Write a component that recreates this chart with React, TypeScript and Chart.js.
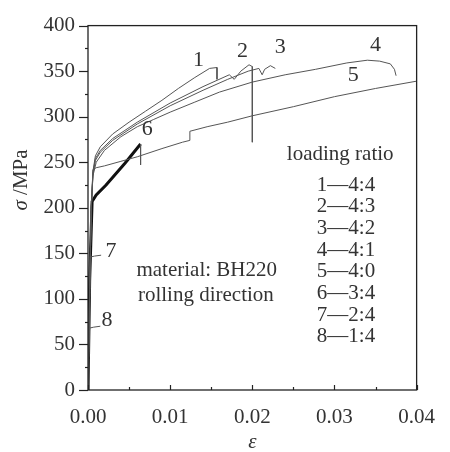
import { useEffect, useRef } from "react";
import { Chart, registerables } from "chart.js";

Chart.register(...registerables);

// ---- data (strain ε, stress σ / MPa) ----
const strain1 = [0, 0.0002, 0.0004, 0.0006, 0.0009, 0.0015, 0.003, 0.005, 0.007, 0.009, 0.011, 0.013, 0.0148, 0.0157, 0.0157];
const stress1 = [0, 110, 200, 240, 257, 267, 281, 294, 306, 318, 331, 343, 353, 354, 341];

const strain2 = [0, 0.0002, 0.0004, 0.0006, 0.0009, 0.0015, 0.003, 0.006, 0.01, 0.014, 0.0172, 0.0178, 0.0186, 0.0196, 0.02, 0.02];
const stress2 = [0, 110, 200, 238, 254, 263, 276, 294, 315, 333, 346, 341, 350, 357, 355, 272];

const strain3 = [0, 0.0002, 0.0004, 0.0006, 0.0009, 0.0015, 0.003, 0.006, 0.01, 0.014, 0.017, 0.0195, 0.0208, 0.0212, 0.0215, 0.0222, 0.0228];
const stress3 = [0, 110, 200, 236, 252, 261, 274, 292, 312, 329, 341, 350, 353, 346, 352, 356, 353];

const strain4 = [0, 0.0002, 0.0004, 0.0006, 0.001, 0.002, 0.004, 0.006, 0.008, 0.01, 0.013, 0.016, 0.02, 0.024, 0.0277, 0.0315, 0.034, 0.0355, 0.0368, 0.0373, 0.0375];
const stress4 = [0, 110, 200, 235, 250, 263, 278, 289, 297, 305, 316, 327, 338, 346, 352, 359, 362, 361, 358, 352, 345];

const strain5 = [0, 0.0002, 0.0004, 0.0006, 0.001, 0.002, 0.004, 0.006, 0.009, 0.0115, 0.0124, 0.0124, 0.0145, 0.017, 0.02, 0.025, 0.03, 0.035, 0.04];
const stress5 = [0, 110, 200, 242, 244, 246, 251, 256, 265, 272, 274, 284, 289, 294, 301, 311, 322, 331, 339];

const strain6 = [0, 0.0002, 0.0005, 0.001, 0.0022, 0.0045, 0.0064, 0.0064];
const stress6 = [0, 120, 207, 214, 225, 249, 270, 247];

const strain7 = [0, 0.0002, 0.0003, 0.0008];
const stress7 = [0, 100, 146, 147];

const strain8 = [0, 0.0001, 0.0002, 0.0007];
const stress8 = [0, 50, 68, 69];

// curve number labels (placed in data units)
const curveNames = ["1", "2", "3", "4", "5", "6", "7", "8"];
const nameStrain = [0.01345, 0.01880, 0.02340, 0.03500, 0.03230, 0.00720, 0.00280, 0.00230];
const nameStress = [362, 372, 376, 378, 345, 286, 152, 77];

const legendTitle = "loading ratio";
const legendLines = ["1\u20144:4", "2\u20144:3", "3\u20144:2", "4\u20144:1", "5\u20144:0", "6\u20143:4", "7\u20142:4", "8\u20141:4"];
const noteLines = ["material: BH220", "rolling direction"];

const xTicks = [0, 0.01, 0.02, 0.03, 0.04];
const yTicks = [0, 50, 100, 150, 200, 250, 300, 350, 400];

const SERIF = "'Liberation Serif', 'DejaVu Serif', serif";
const INK = "#333";
const LINE = "#555";
const FS = 21;

function pts(xs: number[], ys: number[]) {
  return xs.map((x, i) => ({ x, y: ys[i] }));
}

const framePlugin = {
  id: "frame",
  afterDraw(chart: any) {
    const { ctx, chartArea: a, scales } = chart;
    const xs = scales.x;
    const ys = scales.y;
    ctx.save();
    ctx.strokeStyle = "#222";
    ctx.lineWidth = 1.3;
    ctx.strokeRect(a.left, a.top, a.right - a.left, a.bottom - a.top);
    ctx.lineWidth = 1.2;
    // x ticks (inward)
    for (let v = 0; v <= 0.04 + 1e-9; v += 0.005) {
      const px = Math.round(xs.getPixelForValue(v)) + 0.5;
      const major = Math.abs(v / 0.01 - Math.round(v / 0.01)) < 1e-6;
      ctx.beginPath();
      ctx.moveTo(px, a.bottom);
      ctx.lineTo(px, a.bottom - (major ? 5 : 3));
      ctx.stroke();
    }
    // y ticks (outward)
    for (let v = 0; v <= 400 + 1e-9; v += 25) {
      const py = Math.round(ys.getPixelForValue(v)) + 0.5;
      const major = v % 50 === 0;
      ctx.beginPath();
      ctx.moveTo(a.left, py);
      ctx.lineTo(a.left - (major ? 9 : 3), py);
      ctx.stroke();
    }
    // curve numbers
    ctx.fillStyle = INK;
    ctx.textAlign = "center";
    ctx.textBaseline = "middle";
    ctx.font = `22px ${SERIF}`;
    curveNames.forEach((n, i) => {
      ctx.fillText(n, xs.getPixelForValue(nameStrain[i]), ys.getPixelForValue(nameStress[i]));
    });
    // leader ticks for 7 and 8
    ctx.strokeStyle = LINE;
    ctx.lineWidth = 1;
    [[0.0008, 147, 0.0016, 148], [0.0007, 69, 0.0015, 70]].forEach(([x0, y0, x1, y1]) => {
      ctx.beginPath();
      ctx.moveTo(xs.getPixelForValue(x0), ys.getPixelForValue(y0));
      ctx.lineTo(xs.getPixelForValue(x1), ys.getPixelForValue(y1));
      ctx.stroke();
    });
    // legend block
    ctx.font = `${FS}px ${SERIF}`;
    const lx = xs.getPixelForValue(0.0314);
    ctx.fillText(legendTitle, xs.getPixelForValue(0.0307), ys.getPixelForValue(259));
    legendLines.forEach((t, i) => {
      ctx.fillText(t, lx, ys.getPixelForValue(225 - i * 23.8));
    });
    // material note
    ctx.fillText(noteLines[0], xs.getPixelForValue(0.01445), ys.getPixelForValue(131));
    ctx.fillText(noteLines[1], xs.getPixelForValue(0.01435), ys.getPixelForValue(104));
    // axis titles
    ctx.font = `italic ${FS}px ${SERIF}`;
    ctx.fillText("\u03b5", (a.left + a.right) / 2, 442);
    ctx.save();
    ctx.translate(21, 180);
    ctx.rotate(-Math.PI / 2);
    ctx.textAlign = "left";
    const sig = "\u03c3";
    ctx.font = `italic ${FS}px ${SERIF}`;
    const sw = ctx.measureText(sig + " ").width;
    ctx.font = `${FS}px ${SERIF}`;
    const rest = "/MPa";
    const rw = ctx.measureText(rest).width;
    const start = -(sw + rw) / 2;
    ctx.font = `italic ${FS}px ${SERIF}`;
    ctx.fillText(sig, start, 0);
    ctx.font = `${FS}px ${SERIF}`;
    ctx.fillText(rest, start + sw, 0);
    ctx.restore();
    ctx.restore();
  },
};

export default function App() {
  const ref = useRef<HTMLCanvasElement | null>(null);
  useEffect(() => {
    if (!ref.current) return;
    const thin = (data: any) => ({
      data,
      showLine: true,
      borderColor: LINE,
      borderWidth: 1,
      pointRadius: 0,
      tension: 0,
      fill: false,
    });
    const chart = new Chart(ref.current, {
      type: "scatter",
      data: {
        datasets: [
          thin(pts(strain5, stress5)),
          thin(pts(strain4, stress4)),
          thin(pts(strain3, stress3)),
          thin(pts(strain2, stress2)),
          thin(pts(strain1, stress1)),
          thin(pts(strain7, stress7)),
          thin(pts(strain8, stress8)),
          {
            data: pts(strain6, stress6),
            showLine: true,
            borderColor: "#111",
            borderWidth: 3,
            pointRadius: 0,
            fill: false,
            segment: {
              borderWidth: (c: any) => (c.p0.parsed.x === c.p1.parsed.x && c.p0.parsed.y > 100 ? 1 : 3),
              borderColor: (c: any) => (c.p0.parsed.x === c.p1.parsed.x && c.p0.parsed.y > 100 ? LINE : "#111"),
            },
          } as any,
        ],
      },
      options: {
        animation: false,
        responsive: true,
        maintainAspectRatio: false,
        layout: { padding: { left: 0, right: 17, top: 17, bottom: 0 }, autoPadding: false },
        plugins: { legend: { display: false }, tooltip: { enabled: false } },
        scales: {
          x: {
            type: "linear",
            min: 0,
            max: 0.04,
            grid: { display: false, drawTicks: false },
            border: { display: false },
            afterBuildTicks: (s: any) => {
              s.ticks = xTicks.map((v) => ({ value: v }));
            },
            afterFit: (s: any) => {
              s.height = 62;
            },
            ticks: {
              padding: 15,
              maxRotation: 0,
              color: INK,
              font: { family: SERIF, size: FS },
              callback: (v: any) => Number(v).toFixed(2),
            },
          },
          y: {
            type: "linear",
            min: 0,
            max: 400,
            grid: { display: false, drawTicks: false },
            border: { display: false },
            afterBuildTicks: (s: any) => {
              s.ticks = yTicks.map((v) => ({ value: v }));
            },
            afterFit: (s: any) => {
              s.width = 88;
            },
            ticks: {
              padding: 13,
              color: INK,
              font: { family: SERIF, size: FS },
              callback: (v: any) => String(v),
            },
          },
        },
      },
      plugins: [framePlugin],
    });
    return () => chart.destroy();
  }, []);
  return (
    <div style={{ position: "absolute", left: 0, top: 0, width: 450, height: 452, background: "#fff" }}>
      <canvas ref={ref} />
    </div>
  );
}
